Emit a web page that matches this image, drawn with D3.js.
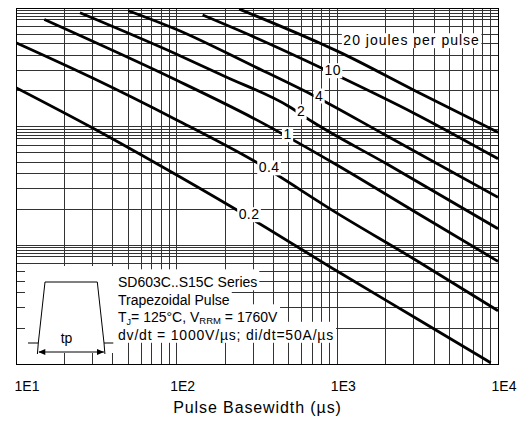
<!DOCTYPE html>
<html>
<head>
<meta charset="utf-8">
<script src="https://cdn.jsdelivr.net/npm/d3@7"></script>
<style>
    body { margin: 0; background: #fff; }
    text { font-family: "Liberation Sans", Arial, sans-serif; fill: #000; }
</style>
</head>
<body>
<div id="chart"></div>
<script>

// ---- data ----
const xTicks = [10, 100, 1000, 10000];
const xTickLabels = ["1E1", "1E2", "1E3", "1E4"];
const gridSteps = [1, 2, 3, 4, 5, 6, 7, 8, 9];
const yGridSteps = [1, 2, 3, 4, 5, 6, 7, 8, 8.5, 9, 9.5];

const energyLabels = ["20", "10", "4", "2", "1", "0.4", "0.2"];

// pulse basewidth (us) / peak current per curve
const width20 = [245, 800, 1000, 3000, 10000];
const peak20  = [9800, 4970, 4330, 2030, 895];
const width10 = [145, 300, 1000, 3000, 10000];
const peak10  = [8730, 5740, 2700, 1300, 537];
const width4  = [50, 100, 300, 700, 2000, 10000];
const peak4   = [9490, 6590, 3245, 1850, 847, 254];
const width2  = [25, 100, 200, 500, 700, 2000, 10000];
const peak2   = [9120, 4080, 2650, 1480, 1100, 491, 138];
const width1  = [15, 100, 300, 1000, 3000, 10000];
const peak1   = [8000, 2460, 1180, 473, 194, 73.3];
const width04 = [10, 30, 100, 300, 1000, 3000, 10000];
const peak04  = [5100, 2570, 1140, 518, 186, 76.7, 28.1];
const width02 = [10, 30, 100, 300, 1000, 3000, 9000];
const peak02  = [2130, 974, 391, 164, 60.4, 24.9, 10.25];

// where each energy label sits along its curve (us)
const labelWidths = [1090, 935, 770, 595, 490, 376, 282];

const insetLines = ["SD603C..S15C Series", "Trapezoidal Pulse", "TJ", "dv/dt = 1000V/\u00b5s; di/dt=50A/\u00b5s"];

const allWidths = [width20, width10, width4, width2, width1, width04, width02];
const allPeaks = [peak20, peak10, peak4, peak2, peak1, peak04, peak02];


// ---- layout ----
let margin = {top: 8, right: 29, bottom: 63, left: 16};
let width = 527 - margin.left - margin.right;
let height = 427 - margin.top - margin.bottom;

let svg = d3.select("#chart").append("svg")
    .attr("width", 527)
    .attr("height", 427)
    .append("g")
    .attr("transform", `translate(${margin.left}, ${margin.top})`);

let x = d3.scaleLog().domain([10, 10000]).range([0, width]);
let y = d3.scaleLog().domain([10, 10000]).range([height, 0]);

// ---- grid ----
let xGrid = [];
let yGrid = [];
[10, 100, 1000].forEach(d => {
    gridSteps.forEach(m => xGrid.push(d * m));
    yGridSteps.forEach(m => yGrid.push(d * m));
});
xGrid.push(10000);
yGrid.push(10000);

let grid = svg.append("g").attr("class", "grid")
    .attr("stroke", "#333")
    .attr("stroke-width", 1)
    .attr("shape-rendering", "crispEdges");

grid.selectAll(".vline")
    .data(xGrid)
    .enter()
    .append("line")
    .attr("class", "vline")
    .attr("x1", d => x(d)).attr("x2", d => x(d))
    .attr("y1", 0).attr("y2", height);

grid.selectAll(".hline")
    .data(yGrid)
    .enter()
    .append("line")
    .attr("class", "hline")
    .attr("x1", 0).attr("x2", width)
    .attr("y1", d => y(d)).attr("y2", d => y(d));

// ---- curves ----
svg.append("clipPath").attr("id", "plotClip")
    .append("rect").attr("width", width).attr("height", height);

let line = d3.line()
    .x(d => x(d[0]))
    .y(d => y(d[1]))
    .curve(d3.curveMonotoneX);

let curveData = allWidths.map((ws, i) => ws.map((w, j) => [w, allPeaks[i][j]]));

svg.append("g")
    .attr("clip-path", "url(#plotClip)")
    .selectAll("path")
    .data(curveData)
    .enter()
    .append("path")
    .attr("d", line)
    .attr("fill", "none")
    .attr("stroke", "#000")
    .attr("stroke-width", 2.8);

// ---- inset (pulse shape + test conditions) ----
let inset = svg.append("g").attr("class", "inset");

inset.append("rect")
    .attr("x", 9).attr("y", height - 98)
    .attr("width", 91).attr("height", 87)
    .attr("fill", "#fff");

let textX = 102;
let baselines = insetLines.map((t, i) => height - 24.2 - 17.5 * (insetLines.length - 1 - i));

let insetText = inset.append("g");
let texts = [];

texts.push(insetText.append("text").attr("x", textX).attr("y", baselines[0])
    .style("font-size", "14px").text(insetLines[0]));
texts.push(insetText.append("text").attr("x", textX).attr("y", baselines[1])
    .style("font-size", "14px").text(insetLines[1]));

let t3 = insetText.append("text").attr("x", textX).attr("y", baselines[2]).style("font-size", "14px");
t3.append("tspan").text("T");
t3.append("tspan").attr("dy", 3).style("font-size", "9px").text("J");
t3.append("tspan").attr("dy", -3).text("= 125\u00b0C, V");
t3.append("tspan").attr("dy", 1.5).style("font-size", "9.5px").text("RRM");
t3.append("tspan").attr("dy", -1.5).text(" = 1760V");
texts.push(t3);

texts.push(insetText.append("text").attr("x", textX).attr("y", baselines[3])
    .style("font-size", "14px").style("letter-spacing", "0.8px").text(insetLines[3]));

// white boxes behind each line of the inset text
texts.forEach((t, i) => {
    let bb = t.node().getBBox();
    inset.insert("rect", "g")
        .attr("x", textX - 5)
        .attr("y", baselines[i] - 18)
        .attr("width", bb.width + 7)
        .attr("height", 21)
        .attr("fill", "#fff");
});

// trapezoid pulse sketch
let trap = inset.append("g")
    .attr("fill", "none")
    .attr("stroke", "#000")
    .attr("stroke-width", 1);

let tTop = height - 82, tBase = height - 21, tArrow = height - 12;
trap.append("path").attr("d", `M12,${tBase} H22.3 L29,${tTop} H81.3 L88,${tBase} H97.3`);
trap.append("line").attr("x1", 22.3).attr("x2", 21.4).attr("y1", tBase).attr("y2", tArrow + 2);
trap.append("line").attr("x1", 88).attr("x2", 88.9).attr("y1", tBase).attr("y2", tArrow + 2);
trap.append("line").attr("x1", 23).attr("x2", 88).attr("y1", tArrow).attr("y2", tArrow);

inset.append("path")
    .attr("d", `M22.3,${tArrow} l7,-3 v6 z M88,${tArrow} l-7,-3 v6 z`)
    .attr("fill", "#000");

inset.append("text")
    .attr("x", 50.5).attr("y", tBase)
    .attr("text-anchor", "middle")
    .style("font-size", "14px")
    .text("tp");

// ---- curve labels ----
function peakAt(ws, ps, w) {
    for (let i = 0; i < ws.length - 1; i++) {
        if (w >= ws[i] && w <= ws[i + 1]) {
            let f = (Math.log10(w) - Math.log10(ws[i])) / (Math.log10(ws[i + 1]) - Math.log10(ws[i]));
            return Math.pow(10, Math.log10(ps[i]) + f * (Math.log10(ps[i + 1]) - Math.log10(ps[i])));
        }
    }
    return ps[ps.length - 1];
}

let labelGroup = svg.append("g").attr("class", "curve-labels");

energyLabels.forEach((e, i) => {
    let g = labelGroup.append("g");
    let lx = x(labelWidths[i]);
    let t;
    if (i === 0) {
        t = g.append("text")
            .attr("x", lx)
            .attr("y", y(peakAt(width20, peak20, labelWidths[0])) - 9)
            .style("font-size", "14px")
            .style("letter-spacing", "1px")
            .text(e + " joules per pulse");
    } else {
        t = g.append("text")
            .attr("x", lx)
            .attr("y", y(peakAt(allWidths[i], allPeaks[i], labelWidths[i])) - 3)
            .attr("dy", "0.35em")
            .attr("text-anchor", "middle")
            .style("font-size", "14px")
            .style("letter-spacing", "0.4px")
            .text(e);
    }
    let bb = t.node().getBBox();
    g.insert("rect", "text")
        .attr("x", bb.x - 1.5)
        .attr("y", bb.y + 1)
        .attr("width", bb.width + 3)
        .attr("height", bb.height - 1)
        .attr("fill", "#fff");
});

// ---- frame ----
svg.append("rect")
    .attr("width", width)
    .attr("height", height)
    .attr("fill", "none")
    .attr("stroke", "#000")
    .attr("stroke-width", 1)
    .attr("shape-rendering", "crispEdges");

// ---- x tick labels + title ----
svg.append("g").attr("class", "x-labels")
    .selectAll("text")
    .data(xTicks)
    .enter()
    .append("text")
    .attr("x", d => Math.max(x(d) + 6, 11))
    .attr("y", height + 26.5)
    .attr("text-anchor", "middle")
    .style("font-size", "14px")
    .text((d, i) => xTickLabels[i]);

svg.append("text")
    .attr("x", 241.5)
    .attr("y", height + 49)
    .attr("text-anchor", "middle")
    .style("font-size", "16px")
    .style("letter-spacing", "0.9px")
    .text("Pulse Basewidth (\u00b5s)");

</script>
</body>
</html>
